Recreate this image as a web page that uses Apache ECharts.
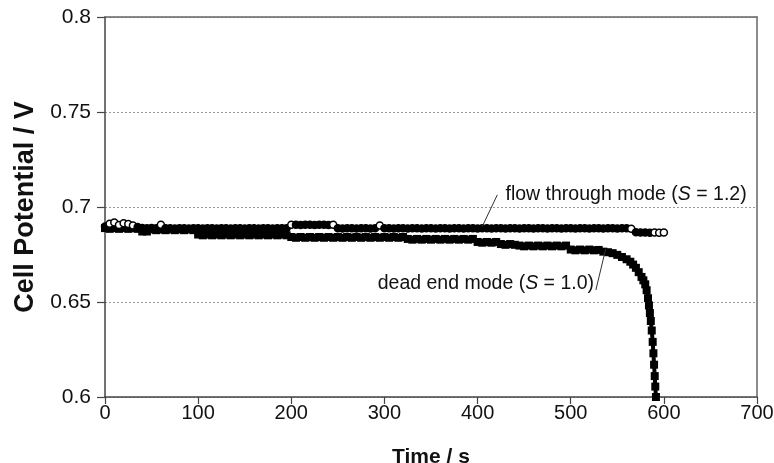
<!DOCTYPE html>
<html><head><meta charset="utf-8">
<script src="https://cdn.jsdelivr.net/npm/echarts@6/dist/echarts.min.js"></script>
<style>html,body{margin:0;padding:0;background:#fff}#c{width:774px;height:463px}</style>
</head><body><div id="c"></div>
<script>
// Flow through mode (S = 1.2): [time s, potential V]
const flowThrough = [
[0,0.6897],[5,0.6912],[10,0.6918],[15,0.6905],[20,0.6915],[25,0.6910],[30,0.6902],[35,0.6895],[40,0.6890],[45,0.6888],
[50,0.6889],[55,0.6888],[60,0.6906],[65,0.6888],[70,0.6888],[75,0.6887],[80,0.6888],[85,0.6888],[90,0.6887],[95,0.6888],
[100,0.6888],[105,0.6887],[110,0.6888],[115,0.6888],[120,0.6887],[125,0.6888],[130,0.6888],[135,0.6887],[140,0.6888],[145,0.6888],
[150,0.6887],[155,0.6888],[160,0.6888],[165,0.6887],[170,0.6888],[175,0.6888],[180,0.6887],[185,0.6888],[190,0.6888],[195,0.6888],
[200,0.6906],[205,0.6906],[210,0.6905],[215,0.6906],[220,0.6906],[225,0.6905],[230,0.6906],[235,0.6906],[240,0.6905],[245,0.6907],
[250,0.6888],[255,0.6887],[260,0.6888],[265,0.6888],[270,0.6887],[275,0.6888],[280,0.6888],[285,0.6887],[290,0.6888],[295,0.6903],
[300,0.6888],[305,0.6888],[310,0.6887],[315,0.6888],[320,0.6888],[325,0.6887],[330,0.6888],[335,0.6888],[340,0.6887],[345,0.6888],
[350,0.6888],[355,0.6887],[360,0.6888],[365,0.6888],[370,0.6887],[375,0.6888],[380,0.6888],[385,0.6887],[390,0.6888],[395,0.6888],
[400,0.6887],[405,0.6888],[410,0.6888],[415,0.6887],[420,0.6888],[425,0.6888],[430,0.6887],[435,0.6888],[440,0.6888],[445,0.6887],
[450,0.6888],[455,0.6888],[460,0.6887],[465,0.6888],[470,0.6888],[475,0.6887],[480,0.6888],[485,0.6888],[490,0.6887],[495,0.6888],
[500,0.6888],[505,0.6887],[510,0.6888],[515,0.6888],[520,0.6887],[525,0.6888],[530,0.6888],[535,0.6887],[540,0.6888],[545,0.6888],
[550,0.6887],[555,0.6888],[560,0.6888],[565,0.6886],[570,0.6867],[575,0.6866],[580,0.6866],[585,0.6865],[590,0.6866],[595,0.6865],[600,0.6866]
];
// Times whose flow-through marker shows as an open circle in the picture
const openMarkerTimes = [5,10,15,20,25,30,60,200,245,295,565,590,595,600];
// Dead end mode (S = 1.0): [time s, potential V]
const deadEnd = [
[0,0.6889],[5,0.6885],[10,0.6889],[15,0.6885],[20,0.6889],[25,0.6885],[30,0.6889],[35,0.6885],[40,0.6871],[45,0.6871],
[50,0.6882],[55,0.6878],[60,0.6882],[65,0.6878],[70,0.6882],[75,0.6878],[80,0.6882],[85,0.6878],[90,0.6882],[95,0.6878],
[100,0.6855],[105,0.6851],[110,0.6855],[115,0.6851],[120,0.6855],[125,0.6851],[130,0.6855],[135,0.6851],[140,0.6855],[145,0.6851],
[150,0.6855],[155,0.6851],[160,0.6855],[165,0.6851],[170,0.6855],[175,0.6851],[180,0.6855],[185,0.6851],[190,0.6855],[195,0.6851],
[200,0.6842],[205,0.6838],[210,0.6842],[215,0.6838],[220,0.6842],[225,0.6838],[230,0.6842],[235,0.6838],[240,0.6842],[245,0.6838],
[250,0.6842],[255,0.6838],[260,0.6842],[265,0.6838],[270,0.6842],[275,0.6838],[280,0.6842],[285,0.6838],[290,0.6842],[295,0.6838],
[300,0.6842],[305,0.6838],[310,0.6842],[315,0.6838],[320,0.6842],[325,0.6832],[330,0.6828],[335,0.6832],[340,0.6828],[345,0.6832],
[350,0.6828],[355,0.6832],[360,0.6828],[365,0.6832],[370,0.6828],[375,0.6832],[380,0.6828],[385,0.6832],[390,0.6828],[395,0.6832],
[400,0.6816],[405,0.6812],[410,0.6816],[415,0.6812],[420,0.6816],[425,0.6805],[430,0.6801],[435,0.6805],[440,0.6801],[445,0.6797],
[450,0.6793],[455,0.6797],[460,0.6793],[465,0.6797],[470,0.6793],[475,0.6797],[480,0.6793],[485,0.6797],[490,0.6793],[495,0.6797],
[500,0.6776],[505,0.6772],[510,0.6776],[515,0.6772],[520,0.6776],[525,0.6772],[530,0.6774],[535,0.6765],[540,0.6762],[545,0.6757],
[550,0.6748],[555,0.6737],[560,0.6725],[564,0.6712],[567,0.6697],[570,0.6680],[573,0.6657],[576,0.6632],[578,0.6614],[580,0.6593],
[581.5,0.6562],[583,0.6520],[584,0.6482],[585,0.6442],[586,0.6400],[587,0.6350],[588,0.6290],[588.8,0.6230],[589.5,0.6170],[590.2,0.6110],
[590.8,0.6055],[591.5,0.6000]
];
const xTicks = [0,100,200,300,400,500,600,700];
const yTicks = [0.6,0.65,0.7,0.75,0.8];
const labelFlow = {text:'flow through mode (', it:'S', rest:' = 1.2)', at:[430,0.7064], leader:[[421.2,0.7064],[405,0.6897]]};
const labelDead = {text:'dead end mode (', it:'S', rest:' = 1.0)', at:[525,0.6595], leader:[[527,0.6563],[537.6,0.6780]]};

const FONT = 'Liberation Sans, Arial, sans-serif';
const chart = echarts.init(document.getElementById('c'), null, {renderer:'canvas'});
function richLabel(l){ return '{n|'+l.text+'}{i|'+l.it+'}{n|'+l.rest+'}'; }
const rich = {n:{fontFamily:FONT,fontSize:19.5,color:'#111'}, i:{fontFamily:FONT,fontSize:19.5,fontStyle:'italic',color:'#111'}};
const ftData = flowThrough.map(p => ({
  value:p,
  itemStyle: openMarkerTimes.indexOf(p[0]) >= 0 ? {color:'#fff',borderColor:'#000',borderWidth:1.5} : {color:'#000',borderColor:'#000',borderWidth:1.5}
}));
chart.setOption({
  animation:false,
  backgroundColor:'#fff',
  grid:{left:105,right:17,top:17,bottom:66,containLabel:false,outerBoundsMode:'none'},
  xAxis:[{
    type:'value',min:xTicks[0],max:xTicks[xTicks.length-1],interval:100,
    name:'Time / s',nameLocation:'middle',nameGap:50,
    nameTextStyle:{fontFamily:FONT,fontSize:21,fontWeight:'bold',color:'#111'},
    axisLine:{show:true,lineStyle:{color:'#444',width:1.5}},
    axisTick:{show:true,length:7,inside:false,lineStyle:{color:'#444',width:1.2}},
    axisLabel:{fontFamily:FONT,fontSize:20,color:'#111',margin:6},
    splitLine:{show:false}
  },{
    type:'value',position:'top',min:0,max:700,interval:100,
    axisLine:{show:true,onZero:false,lineStyle:{color:'#666',width:1.5}},
    axisTick:{show:false},axisLabel:{show:false},splitLine:{show:false}
  }],
  yAxis:[{
    type:'value',min:yTicks[0],max:yTicks[yTicks.length-1],interval:0.05,
    name:'Cell Potential / V',nameLocation:'middle',nameGap:64,nameRotate:90,
    nameTextStyle:{fontFamily:FONT,fontSize:27,fontWeight:'bold',color:'#111'},
    axisLine:{show:true,lineStyle:{color:'#444',width:1.5}},
    axisTick:{show:true,length:8,lineStyle:{color:'#444',width:1.2}},
    axisLabel:{fontFamily:FONT,fontSize:21,color:'#111',margin:14,formatter:v=>String(+v.toFixed(2))},
    splitLine:{show:true,lineStyle:{color:'#999',type:[2,2],width:1}}
  },{
    type:'value',position:'right',min:0.6,max:0.8,interval:0.05,
    axisLine:{show:true,onZero:false,lineStyle:{color:'#666',width:1.5}},
    axisTick:{show:false},axisLabel:{show:false},splitLine:{show:false}
  }],
  series:[{
    name:'dead end',type:'line',data:deadEnd,
    symbol:'rect',symbolSize:8,showAllSymbol:true,
    itemStyle:{color:'#000',borderColor:'#000',borderWidth:0},
    lineStyle:{color:'#000',width:4},
    z:3,
    markLine:{silent:true,symbol:['none','none'],animation:false,
      lineStyle:{color:'#333',width:1,type:'solid'},label:{show:false},
      data:[[{coord:labelDead.leader[0]},{coord:labelDead.leader[1]}]]},
    markPoint:{silent:true,symbol:'circle',symbolSize:0,animation:false,
      data:[{coord:labelDead.at,label:{show:true,position:'left',distance:0,formatter:richLabel(labelDead),rich:rich}}]}
  },{
    name:'flow through',type:'line',data:ftData,
    symbol:'circle',symbolSize:7,showAllSymbol:true,
    itemStyle:{color:'#000',borderColor:'#000',borderWidth:1.5},
    lineStyle:{color:'#000',width:5},
    z:4,
    markLine:{silent:true,symbol:['none','none'],animation:false,
      lineStyle:{color:'#333',width:1,type:'solid'},label:{show:false},
      data:[[{coord:labelFlow.leader[0]},{coord:labelFlow.leader[1]}]]},
    markPoint:{silent:true,symbol:'circle',symbolSize:0,animation:false,
      data:[{coord:labelFlow.at,label:{show:true,position:'right',distance:0,formatter:richLabel(labelFlow),rich:rich}}]}
  }]
});
</script></body></html>
